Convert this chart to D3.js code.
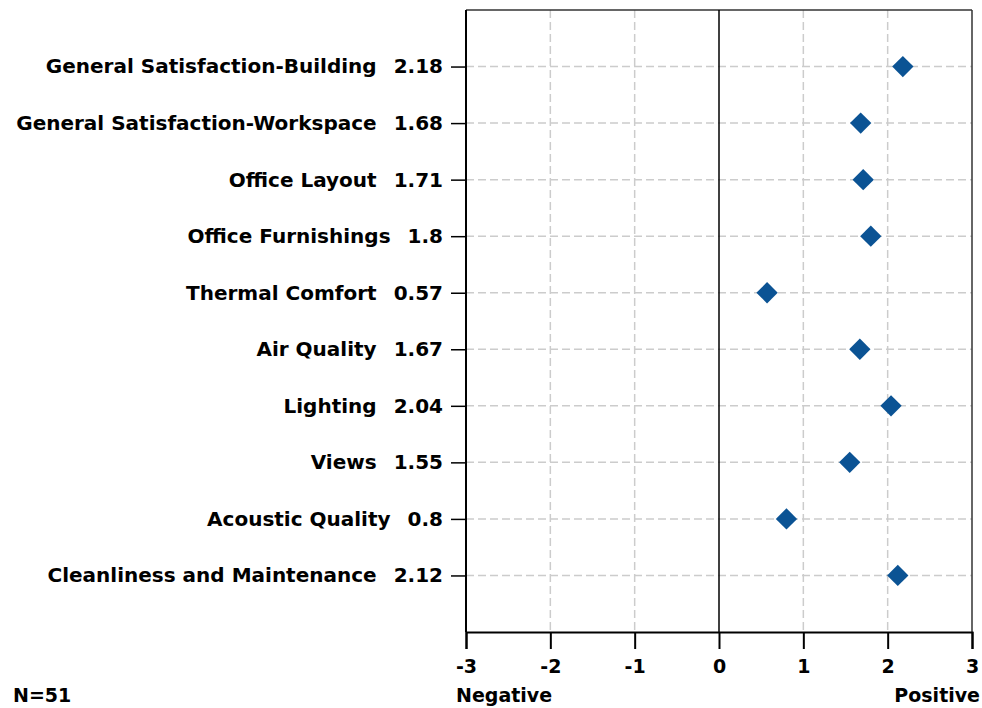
<!DOCTYPE html>
<html>
<head>
<meta charset="utf-8">
<script src="https://d3js.org/d3.v7.min.js"></script>
<style>
  body { margin: 0; background: #fff; }
  text { font-family: "DejaVu Sans", sans-serif; font-weight: bold; fill: #000; }
</style>
</head>
<body>
<script>
// survey categories, top to bottom, and their mean scores
var categories = ["General Satisfaction-Building", "General Satisfaction-Workspace", "Office Layout",
  "Office Furnishings", "Thermal Comfort", "Air Quality", "Lighting", "Views",
  "Acoustic Quality", "Cleanliness and Maintenance"];
var scores = [2.18, 1.68, 1.71, 1.8, 0.57, 1.67, 2.04, 1.55, 0.8, 2.12];
var scoreLabels = ["2.18", "1.68", "1.71", "1.8", "0.57", "1.67", "2.04", "1.55", "0.8", "2.12"];
var xTicks = [-3, -2, -1, 0, 1, 2, 3];
var sampleNote = "N=51";

var width = 982, height = 708;
var plotLeft = 466, plotRight = 972, plotTop = 10, plotBottom = 632;

var svg = d3.select("body").append("svg")
    .attr("width", width)
    .attr("height", height);

var x = d3.scaleLinear().domain([-3, 3]).range([plotLeft, plotRight]);
var y = d3.scalePoint().domain(categories).range([plotTop, plotBottom]).padding(1);

// grid
svg.append("g").selectAll("line")
    .data(xTicks.filter(function(d) { return d > -3 && d < 3 && d != 0; }))
    .enter().append("line")
    .attr("x1", function(d) { return x(d); })
    .attr("x2", function(d) { return x(d); })
    .attr("y1", plotTop).attr("y2", plotBottom)
    .attr("stroke", "#cccccc").attr("stroke-width", 1.5).attr("stroke-dasharray", "8,4");

svg.append("g").selectAll("line")
    .data(categories)
    .enter().append("line")
    .attr("x1", plotLeft).attr("x2", plotRight)
    .attr("y1", function(d) { return y(d); })
    .attr("y2", function(d) { return y(d); })
    .attr("stroke", "#cccccc").attr("stroke-width", 1.5).attr("stroke-dasharray", "8,4");

// frame: top and right border, zero line
svg.append("line").attr("x1", plotLeft).attr("x2", plotRight).attr("y1", plotTop).attr("y2", plotTop)
    .attr("stroke", "#333").attr("stroke-width", 1.5);
svg.append("line").attr("x1", plotRight).attr("x2", plotRight).attr("y1", plotTop).attr("y2", plotBottom)
    .attr("stroke", "#333").attr("stroke-width", 1.5);
svg.append("line").attr("x1", x(0)).attr("x2", x(0)).attr("y1", plotTop).attr("y2", plotBottom)
    .attr("stroke", "#000").attr("stroke-width", 1.5);

// x axis
var xAxis = svg.append("g")
    .attr("transform", "translate(0," + plotBottom + ")")
    .call(d3.axisBottom(x).tickValues(xTicks).tickSize(17).tickPadding(11).tickFormat(function(d) { return String(d); }));
xAxis.select(".domain").attr("stroke", "#000").attr("stroke-width", 2);
xAxis.selectAll(".tick line").attr("stroke", "#000").attr("stroke-width", 2);
xAxis.selectAll("text").style("font-size", "19px").style("font-family", "DejaVu Sans").style("font-weight", "bold");

// y axis: label is category name followed by its score
var yAxis = svg.append("g")
    .attr("transform", "translate(" + plotLeft + ",0)")
    .call(d3.axisLeft(y).tickSize(15).tickPadding(8));
yAxis.select(".domain").attr("stroke", "#000").attr("stroke-width", 2)
    .attr("d", "M0," + plotTop + "V" + plotBottom);
yAxis.selectAll(".tick line").attr("stroke", "#000").attr("stroke-width", 1.5);
yAxis.selectAll(".tick text")
    .style("font-size", "20px").style("font-family", "DejaVu Sans").style("font-weight", "bold")
    .text(null)
    .each(function(d, i) {
      var t = d3.select(this);
      t.append("tspan").text(d);
      t.append("tspan").attr("dx", 17).text(scoreLabels[i]);
    });

// diamonds
svg.append("g").selectAll("path")
    .data(scores)
    .enter().append("path")
    .attr("d", d3.symbol().type(d3.symbolDiamond2).size(290))
    .attr("transform", function(d, i) { return "translate(" + x(d) + "," + y(categories[i]) + ")"; })
    .attr("fill", "#0b5394");

// footer labels
svg.append("text").attr("x", 456).attr("y", 702).style("font-size", "19px").text("Negative");
svg.append("text").attr("x", 980).attr("y", 702).attr("text-anchor", "end").style("font-size", "19px").text("Positive");
svg.append("text").attr("x", 13).attr("y", 702).style("font-size", "19px").text(sampleNote);
</script>
</body>
</html>
